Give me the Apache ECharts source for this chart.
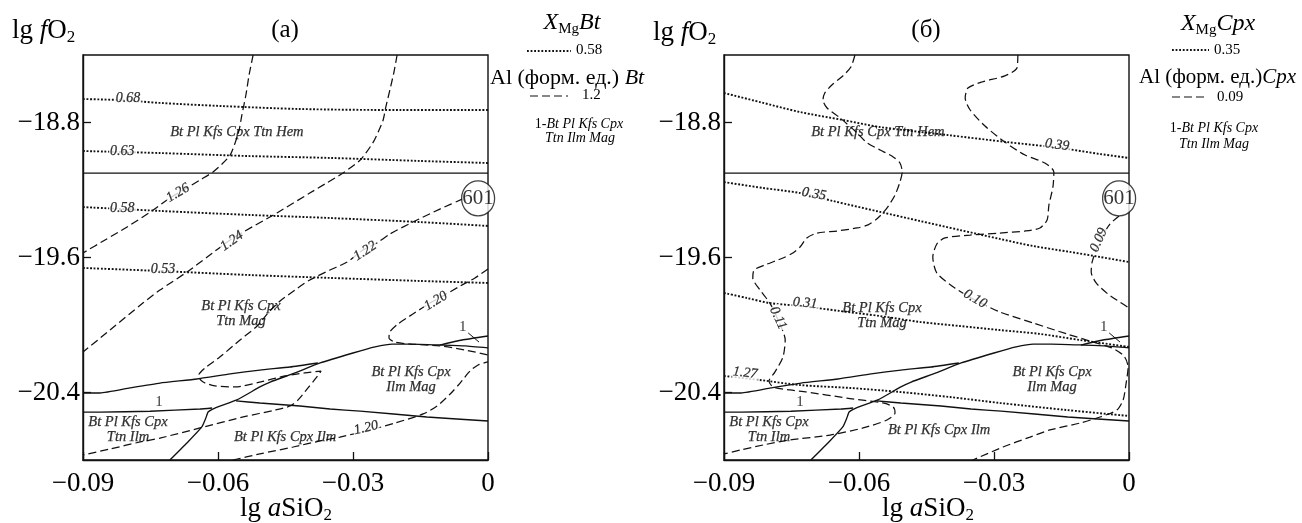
<!DOCTYPE html>
<html>
<head>
<meta charset="utf-8">
<script src="https://cdn.jsdelivr.net/npm/echarts@6/dist/echarts.min.js"></script>
<style>
  html, body { margin: 0; padding: 0; background: #fff; }
  #chart { width: 1302px; height: 523px; }
</style>
</head>
<body>
<div id="chart"></div>
<script>
// ---- axes ----
const xTickValues = [-0.09, -0.06, -0.03, 0];
const yTickValues = [-20.4, -19.6, -18.8];

// ---- phase boundaries (lg aSiO2, lg fO2), common to both panels ----
const hemMagBoundary = [[-0.09, -19.1], [0, -19.1]];
const ttnMagLowerBoundary = [[-0.09, -20.403], [-0.0862, -20.403], [-0.0796, -20.373], [-0.0729, -20.344],
  [-0.0647, -20.32], [-0.0573, -20.29], [-0.0507, -20.267], [-0.044, -20.249], [-0.0378, -20.225]];
const ttnIlmBoundary = [[-0.0707, -20.8], [-0.0669, -20.699], [-0.0636, -20.604], [-0.0627, -20.551],
  [-0.0622, -20.516], [-0.0607, -20.492], [-0.0558, -20.444], [-0.0507, -20.367], [-0.0484, -20.338],
  [-0.0429, -20.284], [-0.0373, -20.225], [-0.03, -20.166], [-0.0251, -20.13], [-0.0213, -20.113],
  [-0.0173, -20.113], [-0.01, -20.119], [-0.0051, -20.124], [0, -20.136]];
const assemblage1Boundary = [[-0.0107, -20.119], [-0.0058, -20.089], [0, -20.065]];
const ttnIlmLowerWest = [[-0.09, -20.516], [-0.0862, -20.516], [-0.0751, -20.511], [-0.064, -20.498], [-0.0613, -20.492]];
const ilmMagLowerEast = [[-0.056, -20.45], [-0.0507, -20.462], [-0.0418, -20.48], [-0.0351, -20.498],
  [-0.0284, -20.51], [-0.0136, -20.545], [0, -20.569]];
const leader1 = [[-0.0044, -20.047], [-0.002, -20.101]];

// ---- panel (a): biotite isopleths ----
const btXMg068 = [[-0.09, -18.661], [-0.0818, -18.667], [-0.0729, -18.684], [-0.0596, -18.702], [-0.0418, -18.72], [-0.0196, -18.726], [0, -18.726]];
const btXMg063 = [[-0.09, -18.969], [-0.0729, -18.981], [-0.0529, -18.999], [-0.0351, -19.01], [-0.0151, -19.028], [0, -19.04]];
const btXMg058 = [[-0.09, -19.301], [-0.0729, -19.324], [-0.0529, -19.348], [-0.0351, -19.366], [-0.0151, -19.39], [0, -19.413]];
const btXMg053 = [[-0.09, -19.662], [-0.0729, -19.68], [-0.0529, -19.704], [-0.0351, -19.721], [-0.0151, -19.739], [0, -19.751]];

const btAl126 = [[-0.0522, -18.4], [-0.0531, -18.519], [-0.0538, -18.637], [-0.0547, -18.756], [-0.0553, -18.844],
  [-0.0562, -18.921], [-0.0573, -18.993], [-0.0591, -19.046], [-0.0611, -19.093], [-0.064, -19.141], [-0.0669, -19.188],
  [-0.0707, -19.247], [-0.0744, -19.319], [-0.0802, -19.419], [-0.0851, -19.496], [-0.09, -19.573]];
const btAl124 = [[-0.0202, -18.4], [-0.0209, -18.501], [-0.0218, -18.607], [-0.0227, -18.708], [-0.0233, -18.785],
  [-0.0244, -18.856], [-0.0256, -18.921], [-0.0284, -19.022], [-0.0322, -19.099], [-0.0362, -19.164], [-0.0396, -19.218],
  [-0.0469, -19.336], [-0.0544, -19.449], [-0.0573, -19.496], [-0.0624, -19.597], [-0.0669, -19.686], [-0.0729, -19.793],
  [-0.0767, -19.87], [-0.084, -20.03], [-0.09, -20.16]];
const btAl122 = [[-0.0056, -19.253], [-0.0107, -19.313], [-0.0167, -19.39], [-0.0218, -19.461], [-0.0247, -19.514],
  [-0.0278, -19.556], [-0.0313, -19.627], [-0.0351, -19.674], [-0.0396, -19.733], [-0.0429, -19.793], [-0.0462, -19.858],
  [-0.0489, -19.929], [-0.0513, -20.006], [-0.0551, -20.089], [-0.0596, -20.19], [-0.0629, -20.255], [-0.0644, -20.302],
  [-0.0633, -20.338], [-0.0607, -20.361], [-0.0562, -20.367], [-0.0507, -20.338], [-0.0451, -20.302], [-0.0407, -20.284],
  [-0.0371, -20.273], [-0.0382, -20.314], [-0.04, -20.373], [-0.0422, -20.444], [-0.044, -20.48], [-0.0473, -20.504],
  [-0.0544, -20.545], [-0.064, -20.61], [-0.0729, -20.67], [-0.0773, -20.693], [-0.084, -20.735], [-0.09, -20.77]];
const btAl120Upper = [[0, -19.668], [-0.0029, -19.721], [-0.0062, -19.769], [-0.0096, -19.822], [-0.0129, -19.87],
  [-0.0167, -19.935], [-0.02, -19.994], [-0.0218, -20.041], [-0.022, -20.077], [-0.0207, -20.101], [-0.0173, -20.113],
  [-0.0107, -20.124], [-0.0051, -20.148], [0, -20.178]];
const btAl120Lower = [[-0.0567, -20.8], [-0.0507, -20.764], [-0.0433, -20.723], [-0.0373, -20.687], [-0.0329, -20.664],
  [-0.0262, -20.622], [-0.0207, -20.581], [-0.0144, -20.527], [-0.0113, -20.48], [-0.0084, -20.409], [-0.0062, -20.344],
  [-0.004, -20.273], [-0.0022, -20.237], [0, -20.219]];

// ---- panel (б): clinopyroxene isopleths ----
const cpxXMg039 = [[-0.09, -18.625], [-0.082, -18.679], [-0.0731, -18.738], [-0.0636, -18.785], [-0.0553, -18.827],
  [-0.0404, -18.874], [-0.0271, -18.916], [-0.0153, -18.951], [-0.0064, -18.987], [0, -19.01]];
const cpxXMg035 = [[-0.09, -19.153], [-0.0813, -19.188], [-0.0731, -19.218], [-0.0658, -19.265], [-0.0553, -19.33],
  [-0.0464, -19.384], [-0.0376, -19.437], [-0.0287, -19.49], [-0.0213, -19.532], [-0.0131, -19.567], [-0.0064, -19.597], [0, -19.627]];
const cpxXMg031 = [[-0.09, -19.81], [-0.0849, -19.84], [-0.0798, -19.87], [-0.0731, -19.887], [-0.0642, -19.917],
  [-0.0553, -19.947], [-0.0464, -19.982], [-0.0376, -20.006], [-0.0287, -20.03], [-0.0198, -20.053], [-0.0109, -20.089], [0, -20.13]];
const cpxXMg127 = [[-0.09, -20.302], [-0.082, -20.326], [-0.0731, -20.356], [-0.062, -20.373], [-0.0509, -20.397],
  [-0.0398, -20.427], [-0.0287, -20.462], [-0.0138, -20.504], [0, -20.539]];

const cpxAl011 = [[-0.0609, -18.4], [-0.0618, -18.471], [-0.0636, -18.524], [-0.0658, -18.572], [-0.0676, -18.625],
  [-0.068, -18.667], [-0.0671, -18.714], [-0.0642, -18.773], [-0.0604, -18.862], [-0.0582, -18.921], [-0.0553, -18.963],
  [-0.0524, -19.004], [-0.0509, -19.04], [-0.0504, -19.093], [-0.0509, -19.153], [-0.052, -19.23], [-0.0538, -19.307],
  [-0.0558, -19.366], [-0.058, -19.407], [-0.0604, -19.425], [-0.0649, -19.443], [-0.0693, -19.455], [-0.0716, -19.484],
  [-0.0731, -19.538], [-0.0747, -19.573], [-0.0769, -19.603], [-0.0809, -19.644], [-0.0833, -19.674], [-0.0836, -19.721],
  [-0.082, -19.793], [-0.0798, -19.87], [-0.078, -19.97], [-0.0764, -20.089], [-0.0769, -20.19], [-0.0787, -20.279],
  [-0.08, -20.332], [-0.0791, -20.367], [-0.0753, -20.385], [-0.0716, -20.397], [-0.0627, -20.433], [-0.0547, -20.462],
  [-0.0524, -20.486], [-0.052, -20.522], [-0.0538, -20.563], [-0.0591, -20.61], [-0.0664, -20.652], [-0.0753, -20.681],
  [-0.0813, -20.711], [-0.0864, -20.741], [-0.09, -20.764]];
const cpxAl010 = [[-0.0247, -18.4], [-0.0249, -18.477], [-0.0276, -18.524], [-0.0327, -18.56], [-0.0358, -18.596],
  [-0.0364, -18.655], [-0.0353, -18.726], [-0.032, -18.821], [-0.0276, -18.916], [-0.0231, -18.993], [-0.0187, -19.04],
  [-0.0167, -19.093], [-0.0169, -19.182], [-0.0178, -19.289], [-0.0182, -19.378], [-0.0198, -19.425], [-0.0231, -19.443],
  [-0.0287, -19.455], [-0.0353, -19.467], [-0.0409, -19.484], [-0.0427, -19.52], [-0.0436, -19.597], [-0.0427, -19.692],
  [-0.0387, -19.781], [-0.0342, -19.852], [-0.0287, -19.923], [-0.0213, -19.988], [-0.0138, -20.053], [-0.0087, -20.095],
  [-0.0038, -20.136], [-0.0011, -20.184], [-0.0002, -20.249], [-0.0007, -20.356], [-0.0013, -20.444], [-0.0027, -20.504],
  [-0.0064, -20.545], [-0.0109, -20.581], [-0.0176, -20.622], [-0.022, -20.664], [-0.028, -20.723], [-0.0347, -20.8]];
const cpxAl009 = [[-0.0022, -19.354], [-0.0042, -19.401], [-0.0058, -19.467], [-0.0071, -19.544], [-0.0082, -19.627],
  [-0.0084, -19.686], [-0.0073, -19.751], [-0.0047, -19.816], [-0.002, -19.864], [0, -19.899]];

// ---- annotations ----
const sampleName = '601';
const samplePoint = [-0.0022, -19.25];
const btValueTags = [[-0.08, -18.655, '0.68'], [-0.0813, -18.969, '0.63'], [-0.0813, -19.307, '0.58'], [-0.0722, -19.668, '0.53'],
  [-0.0689, -19.218, '1.26'], [-0.0569, -19.502, '1.24'], [-0.0273, -19.562, '1.22'], [-0.0116, -19.858, '1.20'], [-0.0271, -20.61, '1.20']];
const cpxValueTags = [[-0.016, -18.933, '0.39'], [-0.07, -19.224, '0.35'], [-0.072, -19.87, '0.31'], [-0.0853, -20.284, '1.27'],
  [-0.078, -19.959, '0.11'], [-0.0342, -19.846, '0.10'], [-0.0067, -19.496, '0.09']];
const fieldNamesA = [[-0.0558, -18.856, 'Bt Pl Kfs Cpx Ttn Hem'], [-0.0549, -19.935, 'Bt Pl Kfs Cpx\nTtn Mag'],
  [-0.0171, -20.326, 'Bt Pl Kfs Cpx\nIlm Mag'], [-0.08, -20.622, 'Bt Pl Kfs Cpx\nTtn Ilm'], [-0.0451, -20.664, 'Bt Pl Kfs Cpx Ilm']];
const fieldNamesB = [[-0.0558, -18.856, 'Bt Pl Kfs Cpx Ttn Hem'], [-0.0549, -19.945, 'Bt Pl Kfs Cpx\nTtn Mag'],
  [-0.0171, -20.326, 'Bt Pl Kfs Cpx\nIlm Mag'], [-0.08, -20.622, 'Bt Pl Kfs Cpx\nTtn Ilm'], [-0.0422, -20.622, 'Bt Pl Kfs Cpx Ilm']];
const fieldNumbers = [[-0.0731, -20.456, '1'], [-0.0056, -20.012, '1']];

// text angles along the isopleths (degrees, counter-clockwise)
const btTagAngles = [0, 0, 0, 0, 30, 35, 33, 31, 13];
const cpxTagAngles = [-7, -10, -5, -6, -65, -30, 66];

// ---- drawing ----
const SERIF = '"Liberation Serif", "DejaVu Serif", serif';
const INK = '#111';
const STROKES = {
  solid: { type: 'solid', width: 1.35 },
  dashed: { type: [8, 4], width: 1.25 },
  dotted: { type: [1.9, 1.7], width: 1.9 }
};

function curve(data, panel, kind, smooth) {
  return {
    type: 'line', data, xAxisIndex: panel, yAxisIndex: panel,
    symbol: 'none', showSymbol: false, silent: true, z: 2,
    smooth: smooth === undefined ? 0.25 : smooth,
    lineStyle: Object.assign({ color: INK, cap: 'butt' }, STROKES[kind])
  };
}

function textMarks(rows, panel, angles, labelStyle, z) {
  return {
    type: 'scatter', xAxisIndex: panel, yAxisIndex: panel, silent: true, z: z || 4,
    symbol: 'circle', symbolSize: 1, itemStyle: { color: 'rgba(255,255,255,0)' },
    data: rows.map((r, i) => ({
      value: [r[0], r[1]],
      label: Object.assign({ show: true, position: 'inside', formatter: r[2], rotate: angles ? angles[i] : 0 }, labelStyle)
    }))
  };
}

const tagStyle = { fontFamily: SERIF, fontStyle: 'italic', fontSize: 14, color: '#000', backgroundColor: '#fff', padding: [0, 1],
  textBorderColor: '#000', textBorderWidth: 0.25 };
const fieldStyle = { fontFamily: SERIF, fontStyle: 'italic', fontSize: 14.5, lineHeight: 15, color: '#000', align: 'center',
  textBorderColor: '#000', textBorderWidth: 0.25 };
const numberStyle = { fontFamily: SERIF, fontSize: 15, color: '#000' };

function sampleMarker(panel) {
  return {
    type: 'scatter', xAxisIndex: panel, yAxisIndex: panel, silent: true, z: 6, clip: false,
    symbol: 'circle', symbolSize: [33, 35],
    itemStyle: { color: '#fff', borderColor: INK, borderWidth: 1.3 },
    data: [samplePoint],
    label: { show: true, position: 'inside', formatter: sampleName, fontFamily: SERIF, fontSize: 21, color: '#000' }
  };
}

function boundaries(panel) {
  return [
    curve(hemMagBoundary, panel, 'solid', false),
    curve(ttnMagLowerBoundary, panel, 'solid', 0.15),
    curve(ttnIlmBoundary, panel, 'solid', 0.15),
    curve(assemblage1Boundary, panel, 'solid', 0.15),
    curve(ttnIlmLowerWest, panel, 'solid', 0.15),
    curve(ilmMagLowerEast, panel, 'solid', 0.15),
    Object.assign(curve(leader1, panel, 'solid', false), { lineStyle: { color: INK, width: 1 } })
  ];
}

const series = [].concat(
  boundaries(0),
  [btXMg068, btXMg063, btXMg058, btXMg053].map(d => curve(d, 0, 'dotted', 0.3)),
  [btAl126, btAl124, btAl122, btAl120Upper, btAl120Lower].map(d => curve(d, 0, 'dashed')),
  [textMarks(btValueTags, 0, btTagAngles, tagStyle, 4),
   textMarks(fieldNamesA, 0, null, fieldStyle, 4),
   textMarks(fieldNumbers, 0, null, numberStyle, 4),
   sampleMarker(0)],
  boundaries(1),
  [cpxXMg039, cpxXMg035, cpxXMg031, cpxXMg127].map(d => curve(d, 1, 'dotted', 0.3)),
  [cpxAl011, cpxAl010, cpxAl009].map(d => curve(d, 1, 'dashed')),
  [textMarks(cpxValueTags, 1, cpxTagAngles, tagStyle, 4),
   textMarks(fieldNamesB, 1, null, fieldStyle, 4),
   textMarks(fieldNumbers, 1, null, numberStyle, 4),
   sampleMarker(1)]
);

function xAxisFor(i) {
  return {
    gridIndex: i, type: 'value', min: -0.09, max: 0, interval: 0.03,
    axisLine: { show: true, onZero: false, lineStyle: { color: INK, width: 1.4 } },
    axisTick: { show: true, inside: true, length: 8, customValues: xTickValues, lineStyle: { color: INK, width: 1.3 } },
    axisLabel: { customValues: xTickValues, margin: 10, fontFamily: SERIF, fontSize: 27, color: '#000',
      formatter: v => (Math.abs(v) < 1e-9 ? '0' : '\u2212' + Math.abs(v).toFixed(2)) },
    splitLine: { show: false }
  };
}
function yAxisFor(i) {
  return {
    gridIndex: i, type: 'value', min: -20.8, max: -18.4,
    axisLine: { show: true, onZero: false, lineStyle: { color: INK, width: 1.4 } },
    axisTick: { show: true, inside: true, length: 8, customValues: yTickValues, lineStyle: { color: INK, width: 1.3 } },
    axisLabel: { customValues: yTickValues, margin: 3, fontFamily: SERIF, fontSize: 27, color: '#000',
      formatter: v => '\u2212' + Math.abs(v).toFixed(1) },
    splitLine: { show: false }
  };
}

// ---- free text (axis names, panel titles, legends) ----
const measure = document.createElement('canvas').getContext('2d');
function textRun(x, y, parts, align) {
  const widths = parts.map(p => { measure.font = p.font; return measure.measureText(p.text).width; });
  const total = widths.reduce((a, b) => a + b, 0);
  let cx = align === 'center' ? x - total / 2 : x;
  return parts.map((p, i) => {
    const el = {
      type: 'text', x: cx, y: y + (p.dy || 0), silent: true, z: 10,
      style: { text: p.text, font: p.font, fill: '#000', align: 'left', verticalAlign: 'middle',
        textAlign: 'left', textVerticalAlign: 'middle' }
    };
    cx += widths[i];
    return el;
  });
}
const F = (size, italic) => (italic ? 'italic ' : '') + size + 'px "Liberation Serif"';
function sampleLine(x1, x2, y, dash, w) {
  return { type: 'line', silent: true, z: 10, shape: { x1, y1: y, x2, y2: y },
    style: { stroke: INK, lineWidth: w, lineDash: dash } };
}

const graphicEls = [].concat(
  textRun(12, 31, [{ text: 'lg ', font: F(27) }, { text: 'f', font: F(27, true) }, { text: 'O', font: F(27) }, { text: '2', font: F(17), dy: 7 }]),
  textRun(653, 33, [{ text: 'lg ', font: F(27) }, { text: 'f', font: F(27, true) }, { text: 'O', font: F(27) }, { text: '2', font: F(17), dy: 7 }]),
  textRun(286, 509, [{ text: 'lg ', font: F(27) }, { text: 'a', font: F(27, true) }, { text: 'SiO', font: F(27) }, { text: '2', font: F(17), dy: 7 }], 'center'),
  textRun(928, 509, [{ text: 'lg ', font: F(27) }, { text: 'a', font: F(27, true) }, { text: 'SiO', font: F(27) }, { text: '2', font: F(17), dy: 7 }], 'center'),
  textRun(285, 30, [{ text: '(a)', font: F(25) }], 'center'),
  textRun(926, 30, [{ text: '(б)', font: F(25) }], 'center'),
  // legend, panel (a)
  textRun(572, 23, [{ text: 'X', font: F(24, true) }, { text: 'Mg', font: F(15), dy: 6 }, { text: 'Bt', font: F(24, true) }], 'center'),
  [sampleLine(527, 571, 51, [1.8, 1.8], 1.8)],
  textRun(576, 50, [{ text: '0.58', font: F(15) }]),
  textRun(490, 78, [{ text: 'Al (форм. ед.) ', font: F(22) }, { text: 'Bt', font: F(22, true) }]),
  [sampleLine(530, 568, 96, [8, 4], 1.2)],
  textRun(582, 95, [{ text: '1.2', font: F(15) }]),
  textRun(579, 124, [{ text: '1-', font: F(14) }, { text: 'Bt Pl Kfs Cpx', font: F(14, true) }], 'center'),
  textRun(580, 138, [{ text: 'Ttn Ilm Mag', font: F(14, true) }], 'center'),
  // legend, panel (б)
  textRun(1218, 24, [{ text: 'X', font: F(24, true) }, { text: 'Mg', font: F(15), dy: 6 }, { text: 'Cpx', font: F(24, true) }], 'center'),
  [sampleLine(1172, 1209, 50, [1.8, 1.8], 1.8)],
  textRun(1214, 50, [{ text: '0.35', font: F(15) }]),
  textRun(1139, 77, [{ text: 'Al (форм. ед.)', font: F(21) }, { text: 'Cpx', font: F(21, true) }]),
  [sampleLine(1172, 1208, 97, [8, 4], 1.2)],
  textRun(1217, 97, [{ text: '0.09', font: F(15) }]),
  textRun(1214, 128, [{ text: '1-', font: F(14) }, { text: 'Bt Pl Kfs Cpx', font: F(14, true) }], 'center'),
  textRun(1214, 144, [{ text: 'Ttn Ilm Mag', font: F(14, true) }], 'center')
);

const chart = echarts.init(document.getElementById('chart'), null, { renderer: 'canvas' });
chart.setOption({
  animation: false,
  backgroundColor: '#fff',
  grid: [
    { left: 83, top: 55, width: 405, height: 405, show: true, borderColor: INK, borderWidth: 1.4, backgroundColor: 'transparent' },
    { left: 724, top: 55, width: 405, height: 405, show: true, borderColor: INK, borderWidth: 1.4, backgroundColor: 'transparent' }
  ],
  xAxis: [xAxisFor(0), xAxisFor(1)],
  yAxis: [yAxisFor(0), yAxisFor(1)],
  series,
  graphic: { elements: graphicEls }
});
</script>
</body>
</html>
